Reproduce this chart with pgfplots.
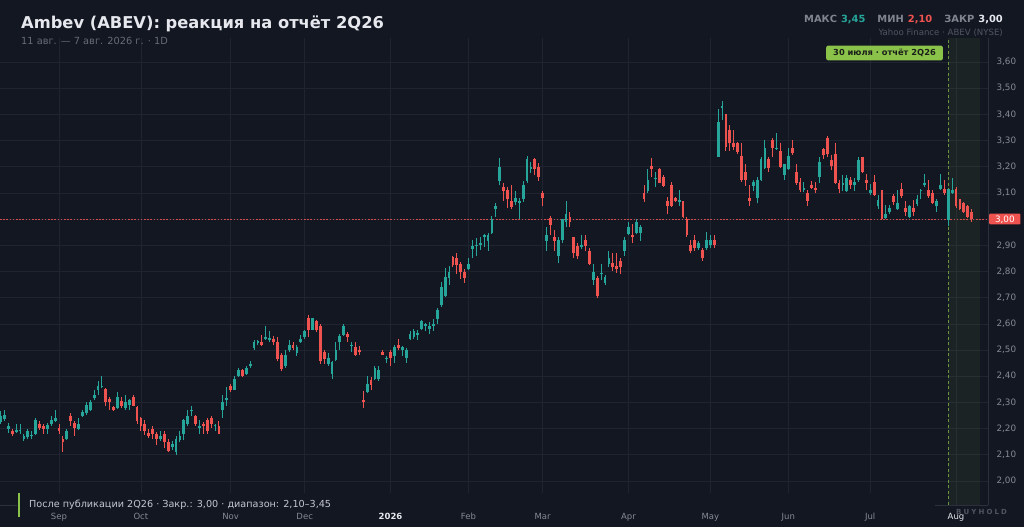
\documentclass[border=0pt]{standalone}
\usepackage{fontspec}
\setmainfont{DejaVu Sans}
\usepackage{pgfplots}
\pgfplotsset{compat=1.18}
\usepackage{pgfplotstable}

\definecolor{bgc}{RGB}{19,23,34}
\definecolor{gridc}{RGB}{32,36,48}
\definecolor{spinec}{RGB}{44,48,60}
\definecolor{upc}{RGB}{38,166,154}
\definecolor{downc}{RGB}{239,83,80}
\definecolor{annc}{RGB}{139,195,74}
\definecolor{titlec}{RGB}{230,232,238}
\definecolor{subc}{RGB}{102,107,120}
\definecolor{tickc}{RGB}{134,138,148}
\definecolor{statc}{RGB}{128,132,143}
\definecolor{srcc}{RGB}{80,85,98}
\definecolor{footc}{RGB}{196,199,207}

% daily candles, x = trading day index (0 = 11 Aug 2025)
\pgfplotstableread{
i o h l c
0 2.224 2.266 2.218 2.247
1 2.237 2.273 2.229 2.253
2 2.199 2.222 2.183 2.211
3 2.190 2.199 2.171 2.181
4 2.189 2.219 2.183 2.194
5 2.191 2.219 2.181 2.196
6 2.160 2.181 2.152 2.173
7 2.168 2.199 2.160 2.190
8 2.171 2.190 2.160 2.177
9 2.181 2.241 2.177 2.232
10 2.219 2.228 2.196 2.201
11 2.211 2.219 2.181 2.199
12 2.199 2.222 2.181 2.214
13 2.219 2.250 2.211 2.232
14 2.229 2.270 2.224 2.242
15 2.203 2.219 2.181 2.190
16 2.160 2.171 2.110 2.148
17 2.160 2.199 2.158 2.190
18 2.250 2.260 2.211 2.228
19 2.222 2.228 2.171 2.201
20 2.199 2.239 2.196 2.219
21 2.250 2.273 2.245 2.262
22 2.260 2.301 2.253 2.292
23 2.270 2.311 2.266 2.301
24 2.317 2.349 2.311 2.330
25 2.349 2.381 2.330 2.362
26 2.359 2.400 2.355 2.364
27 2.352 2.355 2.288 2.301
28 2.313 2.321 2.273 2.301
29 2.283 2.288 2.268 2.270
30 2.279 2.339 2.275 2.321
31 2.304 2.321 2.279 2.288
32 2.279 2.330 2.270 2.301
33 2.292 2.313 2.273 2.308
34 2.321 2.330 2.285 2.288
35 2.283 2.288 2.219 2.228
36 2.241 2.245 2.190 2.209
37 2.219 2.232 2.177 2.190
38 2.183 2.199 2.164 2.171
39 2.199 2.209 2.160 2.181
40 2.181 2.186 2.139 2.160
41 2.160 2.190 2.152 2.171
42 2.181 2.190 2.126 2.148
43 2.148 2.160 2.110 2.113
44 2.130 2.152 2.120 2.143
45 2.110 2.173 2.100 2.160
46 2.158 2.190 2.148 2.171
47 2.181 2.237 2.158 2.232
48 2.219 2.270 2.211 2.250
49 2.266 2.288 2.250 2.273
50 2.250 2.253 2.211 2.219
51 2.203 2.232 2.181 2.209
52 2.219 2.224 2.181 2.209
53 2.232 2.241 2.181 2.190
54 2.241 2.250 2.203 2.219
55 2.209 2.219 2.190 2.214
56 2.211 2.228 2.181 2.181
57 2.270 2.330 2.241 2.301
58 2.311 2.359 2.288 2.317
59 2.364 2.372 2.339 2.346
60 2.349 2.400 2.346 2.390
61 2.400 2.432 2.397 2.423
62 2.423 2.428 2.397 2.400
63 2.410 2.441 2.406 2.432
64 2.438 2.460 2.432 2.445
65 2.508 2.540 2.502 2.530
66 2.527 2.540 2.521 2.535
67 2.530 2.559 2.517 2.521
68 2.543 2.591 2.538 2.550
69 2.540 2.572 2.530 2.546
70 2.543 2.553 2.521 2.530
71 2.530 2.550 2.457 2.466
72 2.483 2.489 2.419 2.428
73 2.441 2.499 2.432 2.483
74 2.499 2.538 2.492 2.521
75 2.521 2.530 2.499 2.508
76 2.489 2.521 2.479 2.512
77 2.530 2.559 2.527 2.543
78 2.550 2.578 2.543 2.572
79 2.623 2.632 2.550 2.578
80 2.578 2.623 2.576 2.623
81 2.610 2.614 2.568 2.578
82 2.591 2.601 2.448 2.457
83 2.492 2.502 2.448 2.466
84 2.448 2.489 2.441 2.470
85 2.410 2.457 2.390 2.454
86 2.461 2.530 2.457 2.502
87 2.530 2.563 2.502 2.553
88 2.559 2.601 2.555 2.591
89 2.563 2.568 2.530 2.550
90 2.515 2.530 2.492 2.521
91 2.512 2.530 2.479 2.483
92 2.502 2.515 2.483 2.492
93 2.311 2.343 2.279 2.301
94 2.339 2.400 2.336 2.372
95 2.385 2.397 2.349 2.368
96 2.390 2.441 2.385 2.432
97 2.390 2.441 2.381 2.423
98 2.492 2.502 2.483 2.483
99 2.464 2.479 2.451 2.470
100 2.492 2.502 2.441 2.470
101 2.479 2.521 2.451 2.512
102 2.521 2.543 2.499 2.508
103 2.502 2.515 2.479 2.512
104 2.470 2.508 2.451 2.502
105 2.543 2.572 2.540 2.563
106 2.550 2.581 2.543 2.572
107 2.559 2.578 2.540 2.566
108 2.581 2.614 2.578 2.610
109 2.591 2.604 2.572 2.601
110 2.581 2.606 2.563 2.591
111 2.591 2.619 2.572 2.601
112 2.619 2.661 2.601 2.652
113 2.672 2.761 2.666 2.742
114 2.706 2.812 2.704 2.780
115 2.777 2.821 2.748 2.799
116 2.854 2.859 2.818 2.825
117 2.850 2.869 2.790 2.825
118 2.828 2.837 2.770 2.799
119 2.799 2.808 2.757 2.777
120 2.808 2.850 2.805 2.828
121 2.886 2.920 2.850 2.897
122 2.897 2.926 2.859 2.903
123 2.901 2.930 2.882 2.907
124 2.930 2.945 2.894 2.939
125 2.917 2.948 2.879 2.939
126 2.948 3.011 2.945 2.999
127 3.037 3.060 3.009 3.049
128 3.146 3.232 3.130 3.200
129 3.121 3.136 3.070 3.108
130 3.111 3.123 3.041 3.075
131 3.070 3.130 3.037 3.047
132 3.066 3.108 3.053 3.079
133 3.060 3.079 2.999 3.070
134 3.075 3.146 3.066 3.130
135 3.146 3.240 3.139 3.228
136 3.190 3.219 3.177 3.200
137 3.228 3.232 3.168 3.190
138 3.200 3.215 3.146 3.159
139 3.100 3.108 3.050 3.079
140 2.917 2.968 2.879 2.939
141 3.003 3.011 2.939 2.977
142 2.930 2.958 2.879 2.917
143 2.859 2.930 2.831 2.922
144 2.920 3.000 2.910 2.999
145 2.990 3.070 2.968 3.019
146 3.009 3.028 2.968 2.990
147 2.930 2.933 2.850 2.869
148 2.897 2.907 2.846 2.859
149 2.894 2.939 2.884 2.901
150 2.920 2.939 2.879 2.897
151 2.879 2.888 2.825 2.828
152 2.767 2.828 2.748 2.799
153 2.777 2.782 2.697 2.706
154 2.790 2.828 2.767 2.795
155 2.757 2.786 2.748 2.780
156 2.828 2.879 2.816 2.850
157 2.831 2.872 2.803 2.816
158 2.821 2.869 2.795 2.808
159 2.841 2.850 2.790 2.816
160 2.879 2.930 2.859 2.920
161 2.945 2.990 2.939 2.968
162 2.939 2.980 2.907 2.930
163 2.948 2.999 2.945 2.990
164 2.948 2.977 2.917 2.968
165 3.100 3.130 3.066 3.075
166 3.108 3.190 3.100 3.149
167 3.202 3.232 3.159 3.190
168 3.153 3.181 3.124 3.158
169 3.190 3.194 3.136 3.139
170 3.162 3.168 3.123 3.127
171 3.069 3.085 3.018 3.051
172 3.130 3.140 3.047 3.051
173 3.079 3.085 3.064 3.069
174 3.066 3.111 3.051 3.073
175 3.069 3.069 3.003 3.009
176 3.000 3.009 2.933 2.939
177 2.901 2.920 2.869 2.878
178 2.920 2.939 2.878 2.891
179 2.891 2.916 2.882 2.907
180 2.882 2.888 2.840 2.850
181 2.891 2.949 2.882 2.920
182 2.901 2.939 2.891 2.920
183 2.920 2.939 2.891 2.901
184 3.238 3.422 3.238 3.369
185 3.425 3.450 3.378 3.431
186 3.400 3.400 3.260 3.276
187 3.340 3.359 3.260 3.289
188 3.289 3.340 3.263 3.276
189 3.289 3.293 3.247 3.257
190 3.242 3.289 3.140 3.149
191 3.178 3.209 3.127 3.149
192 3.079 3.130 3.051 3.069
193 3.127 3.149 3.107 3.140
194 3.079 3.162 3.060 3.149
195 3.149 3.238 3.145 3.229
196 3.196 3.302 3.193 3.270
197 3.229 3.238 3.178 3.196
198 3.302 3.310 3.238 3.270
199 3.267 3.327 3.263 3.272
200 3.260 3.289 3.196 3.200
201 3.168 3.212 3.149 3.209
202 3.191 3.270 3.187 3.242
203 3.270 3.302 3.244 3.251
204 3.178 3.209 3.132 3.136
205 3.140 3.158 3.102 3.111
206 3.111 3.142 3.102 3.120
207 3.100 3.110 3.049 3.070
208 3.132 3.145 3.115 3.120
209 3.120 3.140 3.098 3.111
210 3.161 3.239 3.138 3.218
211 3.268 3.272 3.230 3.243
212 3.310 3.319 3.237 3.247
213 3.227 3.243 3.186 3.201
214 3.249 3.290 3.133 3.138
215 3.138 3.151 3.100 3.116
216 3.129 3.167 3.108 3.138
217 3.108 3.167 3.104 3.158
218 3.148 3.161 3.116 3.129
219 3.129 3.158 3.108 3.142
220 3.148 3.239 3.142 3.227
221 3.239 3.239 3.176 3.180
222 3.151 3.171 3.110 3.138
223 3.100 3.133 3.091 3.113
224 3.142 3.167 3.087 3.091
225 3.049 3.091 3.037 3.072
226 3.110 3.110 2.996 2.999
227 3.006 3.053 2.999 3.019
228 3.028 3.053 3.019 3.044
229 3.087 3.097 3.053 3.066
230 3.037 3.110 3.034 3.062
231 3.116 3.138 3.082 3.087
232 3.041 3.070 3.011 3.028
233 3.009 3.053 3.006 3.049
234 3.041 3.072 3.011 3.028
235 3.057 3.091 3.049 3.078
236 3.108 3.116 3.078 3.113
237 3.129 3.171 3.123 3.138
238 3.110 3.148 3.082 3.087
239 3.100 3.110 3.057 3.060
240 3.049 3.075 3.028 3.070
241 3.116 3.171 3.110 3.129
242 3.116 3.148 3.091 3.100
243 2.996 3.116 2.973 3.116
244 3.100 3.158 3.095 3.110
245 3.116 3.123 3.044 3.049
246 3.078 3.078 3.034 3.037
247 3.060 3.066 3.024 3.028
248 3.049 3.053 3.006 3.009
249 3.028 3.037 2.990 3.000
}\candles

\pgfplotsset{
  wick/.style={draw=none, mark=none, forget plot, restrict y to domain=0:9,
    error bars/.cd, y dir=plus, y explicit, error mark=none,
    error bar style={solid, line width=1pt, draw=#1}},
  body/.style={draw=none, mark=none, forget plot, restrict y to domain=0:9,
    error bars/.cd, y dir=plus, y explicit, error mark=none,
    error bar style={solid, line width=2.8pt, draw=#1}},
}

\begin{document}
\begin{tikzpicture}
\fill[bgc] (0pt,0pt) rectangle (1024pt,527pt);
\begin{axis}[
  anchor=north west, at={(0pt,489pt)},
  x=3.9pt, y=261.9pt,
  xmin=-0.13, xmax=253.2, ymin=1.9084, ymax=3.6915,
  axis x line*=bottom, axis y line*=right,
  axis line style={draw=spinec, line width=0.8pt},
  major tick length=0pt,
  grid=major, major grid style={draw=gridc, line width=0.7pt},
  xtick={15,36,59,78,100,120,139,161,182,202,223,245},
  xticklabels={Sep,Oct,Nov,Dec,{\textcolor{titlec}{\bfseries 2026}},Feb,Mar,Apr,May,Jun,Jul,{\textcolor{titlec}{Aug}}},
  xticklabel style={font=\fontsize{8.5}{10}\selectfont, text=tickc, yshift=-5pt},
  ytick={2.0,2.1,2.2,2.3,2.4,2.5,2.6,2.7,2.8,2.9,3.0,3.1,3.2,3.3,3.4,3.5,3.6},
  scaled y ticks=false,
  /pgf/number format/assume math mode=true,
  yticklabel style={font=\fontsize{8.8}{10}\selectfont, text=tickc, xshift=5pt,
    /pgf/number format/.cd, fixed, fixed zerofill, precision=2, use comma},
]
% post-report window
\addplot[fill=annc, fill opacity=0.07, draw=none, forget plot]
  coordinates {(243,1.9084) (251.2,1.9084) (251.2,3.6915) (243,3.6915)} --cycle;
\addplot[downc, opacity=0.85, line width=0.8pt, dash pattern=on 1.6pt off 1.6pt, forget plot]
  coordinates {(-0.13,3.0) (253.2,3.0)};
\addplot[annc, opacity=0.7, line width=0.8pt, dash pattern=on 3pt off 2.5pt, forget plot]
  coordinates {(243,1.9084) (243,3.6915)};
% wicks
\addplot[wick=upc] table[x=i, y expr={\thisrow{c}>=\thisrow{o} ? \thisrow{l} : -9},
  y error plus expr={\thisrow{h}-\thisrow{l}}] {\candles};
\addplot[wick=downc] table[x=i, y expr={\thisrow{c}<\thisrow{o} ? \thisrow{l} : -9},
  y error plus expr={\thisrow{h}-\thisrow{l}}] {\candles};
% bodies
\addplot[body=upc] table[x=i, y expr={\thisrow{c}>=\thisrow{o} ? \thisrow{o} : -9},
  y error plus expr={abs(\thisrow{c}-\thisrow{o})}] {\candles};
\addplot[body=downc] table[x=i, y expr={\thisrow{c}<\thisrow{o} ? \thisrow{c} : -9},
  y error plus expr={abs(\thisrow{o}-\thisrow{c})}] {\candles};
\end{axis}

% footer strip
\fill[bgc] (17pt,19pt) rectangle (935pt,34pt);
\fill[annc] (18pt,10pt) rectangle (20.2pt,34pt);
\node[anchor=base west, inner sep=0, text=footc, font=\fontsize{9.65}{11}\selectfont]
  at (29pt,19.7pt) {После публикации 2Q26 · Закр.: 3,00 · диапазон: 2,10–3,45};

% titles
\node[anchor=base west, inner sep=0, text=titlec, font=\fontsize{16.3}{19}\selectfont\bfseries]
  at (21pt,498.7pt) {Ambev (ABEV): реакция на отчёт 2Q26};
\node[anchor=base west, inner sep=0, text=subc, font=\fontsize{9.8}{11}\selectfont]
  at (21pt,482.7pt) {11 авг. — 7 авг. 2026 г. · 1D};
\node[anchor=base east, inner sep=0, font=\fontsize{9.9}{11}\selectfont\bfseries]
  at (1003pt,504.5pt) {\textcolor{statc}{МАКС}\hspace{4pt}\textcolor{upc}{3,45}\hspace{12pt}\textcolor{statc}{МИН}\hspace{4pt}\textcolor{downc}{2,10}\hspace{12pt}\textcolor{statc}{ЗАКР}\hspace{4pt}\textcolor{titlec}{3,00}};
\node[anchor=base east, inner sep=0, text=srcc, font=\fontsize{8.6}{9}\selectfont]
  at (1003pt,491pt) {Yahoo Finance · ABEV (NYSE)};

% event label
\node[anchor=east, fill=annc, rounded corners=2pt, inner xsep=7pt, inner ysep=4pt,
  text height=6.2pt, text depth=0.6pt, text={rgb,255:red,27;green,31;blue,26},
  font=\fontsize{8.3}{10}\selectfont\bfseries] at (943pt,474pt) {30 июля · отчёт 2Q26};

% last price tag
\node[anchor=west, fill=downc, rounded corners=1pt, inner xsep=5.8pt, inner ysep=2.2pt,
  text height=6.4pt, text depth=0pt, text=white, font=\fontsize{8.8}{10}\selectfont]
  at (989pt,308pt) {3,00};

% watermark
\node[anchor=base west, inner sep=0, text=srcc, font=\fontsize{7}{8}\selectfont\bfseries\addfontfeatures{LetterSpace=30}]
  at (956pt,13pt) {BUYHOLD};

\pgfresetboundingbox
\useasboundingbox (0pt,0pt) rectangle (1024pt,527pt);
\end{tikzpicture}
\end{document}
